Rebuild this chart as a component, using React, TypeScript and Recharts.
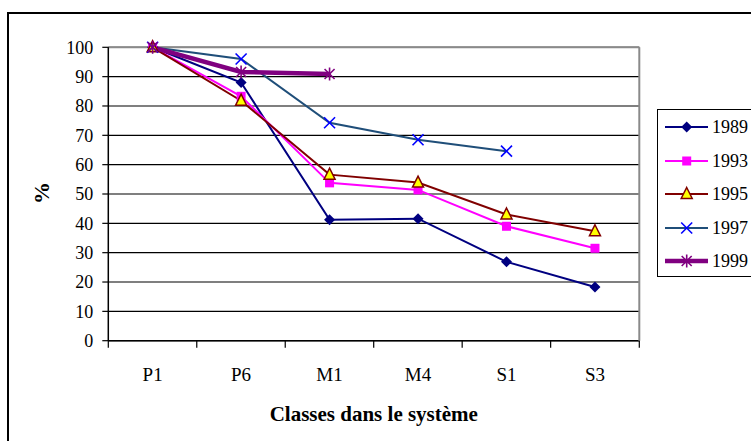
import { CartesianGrid, Line, LineChart, ReferenceLine, XAxis, YAxis } from "recharts";

const classes = ["P1", "P6", "M1", "M4", "S1", "S3"];
const y1989 = [100, 88, 41.2, 41.6, 26.9, 18.3];
const y1993 = [100, 83.3, 53.8, 51.4, 39, 31.5];
const y1995 = [100, 81.8, 56.6, 53.9, 43, 37.3];
const y1997 = [100, 96, 74.3, 68.5, 64.6, null];
const y1999 = [100, 91.6, 90.9, null, null, null];
const yTicks = [0, 10, 20, 30, 40, 50, 60, 70, 80, 90, 100];

const data = classes.map((classe, i) => ({
  classe,
  y1989: y1989[i],
  y1993: y1993[i],
  y1995: y1995[i],
  y1997: y1997[i],
  y1999: y1999[i],
}));

type MarkerKind = "diamond" | "square" | "triangle" | "cross" | "star";

const series: { key: string; name: string; color: string; width: number; marker: MarkerKind }[] = [
  { key: "y1989", name: "1989", color: "#000080", width: 2, marker: "diamond" },
  { key: "y1993", name: "1993", color: "#ff00ff", width: 2, marker: "square" },
  { key: "y1995", name: "1995", color: "#800000", width: 2, marker: "triangle" },
  { key: "y1997", name: "1997", color: "#1f4e79", width: 2, marker: "cross" },
  { key: "y1999", name: "1999", color: "#800080", width: 4.5, marker: "star" },
];

const serif = "Liberation Serif";
const halfBand = 44.33;

function Marker({ kind, cx, cy }: { kind: MarkerKind; cx: number; cy: number }) {
  switch (kind) {
    case "diamond":
      return (
        <polygon
          points={`${cx},${cy - 5.5} ${cx + 5.5},${cy} ${cx},${cy + 5.5} ${cx - 5.5},${cy}`}
          fill="#000080"
        />
      );
    case "square":
      return <rect x={cx - 4.5} y={cy - 4.5} width={9} height={9} fill="#ff00ff" />;
    case "triangle":
      return (
        <polygon
          points={`${cx},${cy - 6.5} ${cx + 5.5},${cy + 4.5} ${cx - 5.5},${cy + 4.5}`}
          fill="#ffff00"
          stroke="#800000"
          strokeWidth={1.5}
        />
      );
    case "cross":
      return (
        <g stroke="#0000ff" strokeWidth={1.6}>
          <line x1={cx - 5.5} y1={cy - 5.5} x2={cx + 5.5} y2={cy + 5.5} />
          <line x1={cx - 5.5} y1={cy + 5.5} x2={cx + 5.5} y2={cy - 5.5} />
        </g>
      );
    case "star":
      return (
        <g stroke="#800080" strokeWidth={1.6}>
          <line x1={cx - 5} y1={cy - 5} x2={cx + 5} y2={cy + 5} />
          <line x1={cx - 5} y1={cy + 5} x2={cx + 5} y2={cy - 5} />
          <line x1={cx} y1={cy - 6.5} x2={cx} y2={cy + 6.5} />
        </g>
      );
  }
}

function makeDot(kind: MarkerKind) {
  return (p: any) => {
    if (p.cx == null || p.cy == null || p.value == null) return <g key={p.index} />;
    return (
      <g key={p.index}>
        <Marker kind={kind} cx={p.cx} cy={p.cy} />
      </g>
    );
  };
}

// category label plus the tick marks at the band edges, like Excel draws them
function ClassTick(props: any) {
  const { x, payload, index } = props;
  const axisY = 340.7;
  return (
    <g>
      <line x1={x - halfBand} y1={axisY} x2={x - halfBand} y2={axisY + 7} stroke="#000" strokeWidth={1.2} />
      {index === classes.length - 1 && (
        <line x1={x + halfBand} y1={axisY} x2={x + halfBand} y2={axisY + 7} stroke="#000" strokeWidth={1.2} />
      )}
      <text x={x} y={381} textAnchor="middle" fill="#000" fontSize={19} fontFamily={serif}>
        {payload.value}
      </text>
    </g>
  );
}

export default function App() {
  return (
    <div
      style={{
        position: "fixed",
        left: 0,
        top: 0,
        width: 751,
        height: 441,
        overflow: "hidden",
        background: "#fff",
        fontFamily: serif,
      }}
    >
      <div
        style={{
          position: "absolute",
          left: 7,
          top: 12,
          width: 800,
          height: 500,
          border: "2px solid #000",
        }}
      />
      <div style={{ position: "absolute", left: 0, top: 0 }}>
        <LineChart
          width={751}
          height={441}
          data={data}
          margin={{ top: 47.3, right: 110.7, bottom: 20.3, left: 8.3 }}
          style={{ fontFamily: serif }}
        >
          <CartesianGrid vertical={false} stroke="#000" strokeWidth={1.2} />
          <XAxis
            dataKey="classe"
            height={80}
            padding={{ left: halfBand, right: halfBand }}
            axisLine={{ stroke: "#000", strokeWidth: 1.5 }}
            tickLine={false}
            tick={<ClassTick />}
            interval={0}
            label={{
              value: "Classes dans le système",
              position: "insideBottom",
              offset: 0,
              fill: "#000",
              fontSize: 21,
              fontWeight: "bold",
              fontFamily: serif,
            }}
          />
          <YAxis
            domain={[0, 100]}
            ticks={yTicks}
            width={100}
            axisLine={{ stroke: "#000", strokeWidth: 1.5 }}
            tickLine={{ stroke: "#000", strokeWidth: 1.2 }}
            tickSize={6}
            tickMargin={9}
            tick={{ fill: "#000", fontSize: 18, fontFamily: serif }}
            interval={0}
          />
          <YAxis
            yAxisId="frame"
            orientation="right"
            width={1}
            domain={[0, 100]}
            tick={false}
            tickLine={false}
            axisLine={{ stroke: "#8a8a8a", strokeWidth: 2 }}
          />
          <ReferenceLine y={100} stroke="#8a8a8a" strokeWidth={2} />
          {series.map((s) => (
            <Line
              key={s.key}
              dataKey={s.key}
              name={s.name}
              stroke={s.color}
              strokeWidth={s.width}
              dot={makeDot(s.marker)}
              activeDot={false}
              isAnimationActive={false}
            />
          ))}
        </LineChart>
      </div>
      <div
        style={{
          position: "absolute",
          left: 42,
          top: 193,
          transform: "translate(-50%, -50%) rotate(-90deg)",
          fontSize: 22,
          fontWeight: "bold",
          lineHeight: 1,
        }}
      >
        %
      </div>
      <div
        style={{
          position: "absolute",
          left: 657,
          top: 109,
          width: 120,
          height: 168,
          border: "1px solid #000",
          background: "#fff",
          boxSizing: "border-box",
        }}
      >
        {series.map((s, i) => (
          <div
            key={s.key}
            style={{
              position: "absolute",
              left: 7,
              top: 17 + i * 33.5 - 10,
              height: 20,
              display: "flex",
              alignItems: "center",
            }}
          >
            <svg width={44} height={20} style={{ display: "block" }}>
              <line x1={0} y1={10} x2={43} y2={10} stroke={s.color} strokeWidth={s.width} />
              <Marker kind={s.marker} cx={21.7} cy={10} />
            </svg>
            <span style={{ marginLeft: 3, fontSize: 18, lineHeight: "20px" }}>{s.name}</span>
          </div>
        ))}
      </div>
    </div>
  );
}
